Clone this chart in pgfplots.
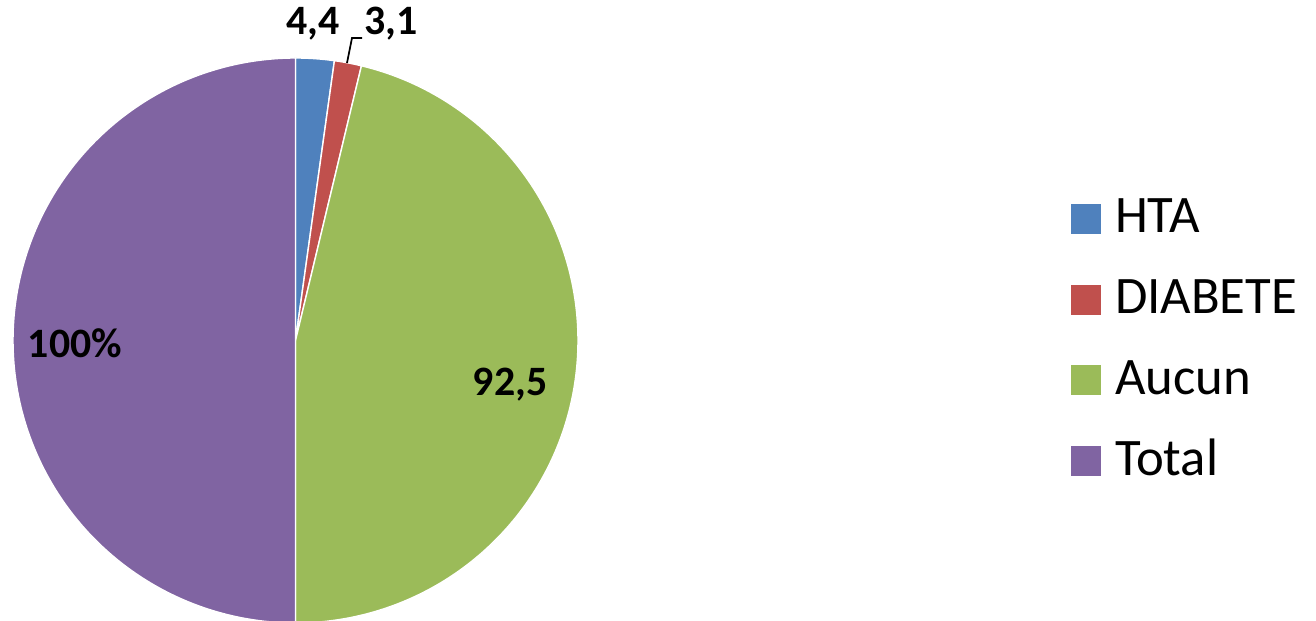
\documentclass[border=0pt]{standalone}
\usepackage{pgfplots}
\pgfplotsset{compat=1.18}
\usepackage{fontspec}
\setmainfont{Carlito}
\definecolor{cHTA}{HTML}{4F81BD}
\definecolor{cDIA}{HTML}{C0504D}
\definecolor{cAUC}{HTML}{9BBB59}
\definecolor{cTOT}{HTML}{8064A2}
\begin{document}
\begin{tikzpicture}
% values (percent), total of all = 200 -> 1 unit = 1.8 degrees
\pgfmathsetmacro\aA{90}
\pgfmathsetmacro\aB{\aA-4.4*1.8}
\pgfmathsetmacro\aC{\aB-3.1*1.8}
\pgfmathsetmacro\aD{\aC-92.5*1.8}
\pgfmathsetmacro\aE{\aD-100*1.8}
\def\cx{295.5}\def\cy{280.5}\def\R{282.5}
\begin{axis}[
  scale only axis, width=13.16cm, height=6.21cm,
  xmin=0, xmax=1316, ymin=0, ymax=621,
  hide axis, clip mode=individual,
  area legend,
  legend image code/.code={\fill[#1,draw=none] (0cm,-0.15cm) rectangle (0.3cm,0.15cm);},
  legend cell align=left,
  legend style={at={(axis cs:1071,426)}, anchor=north west, draw=none, fill=none,
    inner sep=0pt, outer sep=0pt, row sep=3.27mm, column sep=1.4mm,
    font=\fontsize{15}{18}\selectfont,
    nodes={text height=3.8mm, text depth=1mm, inner sep=0pt}},
]
\addplot[fill=cHTA, draw=white, line width=0.4pt, domain=\aB:\aA, samples=40, variable=\t]
  ({\cx+\R*cos(\t)},{\cy+\R*sin(\t)}) -- (axis cs:\cx,\cy) -- cycle;
\addlegendentry{HTA}
\addplot[fill=cDIA, draw=white, line width=0.4pt, domain=\aC:\aB, samples=40, variable=\t]
  ({\cx+\R*cos(\t)},{\cy+\R*sin(\t)}) -- (axis cs:\cx,\cy) -- cycle;
\addlegendentry{DIABETE}
\addplot[fill=cAUC, draw=white, line width=0.4pt, domain=\aD:\aC, samples=200, variable=\t]
  ({\cx+\R*cos(\t)},{\cy+\R*sin(\t)}) -- (axis cs:\cx,\cy) -- cycle;
\addlegendentry{Aucun}
\addplot[fill=cTOT, draw=white, line width=0.4pt, domain=\aE:\aD, samples=200, variable=\t]
  ({\cx+\R*cos(\t)},{\cy+\R*sin(\t)}) -- (axis cs:\cx,\cy) -- cycle;
\addlegendentry{Total}
\draw[black, line width=0.5pt] (axis cs:347,558) -- (axis cs:352,583) -- (axis cs:362,583);
\begin{scope}[every node/.style={font=\fontsize{11.9}{14}\bfseries\selectfont}]
\node at (axis cs:313,597) {4,4};
\node at (axis cs:391,597) {3,1};
\node at (axis cs:510,236) {92,5};
\node at (axis cs:75,278) {100\%};
\end{scope}
\end{axis}
\pgfresetboundingbox
\useasboundingbox (current axis.south west) rectangle (current axis.north east);
\end{tikzpicture}
\end{document}
